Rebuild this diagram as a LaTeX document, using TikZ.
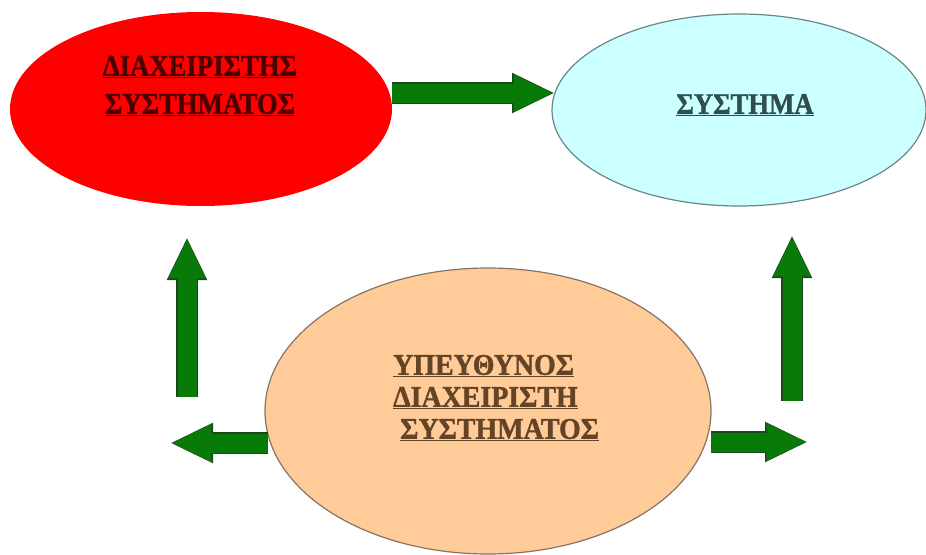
\documentclass[tikz,border=0pt]{standalone}
\usepackage{graphicx}
\usepackage{fontspec}
\setmainfont{Liberation Serif}[BoldFeatures={FakeBold=1.3}]
\usetikzlibrary{arrows.meta,calc,shapes.geometric}
\definecolor{arrowgreen}{RGB}{8,122,8}
\definecolor{arrowedge}{RGB}{30,70,30}
\definecolor{sysfill}{RGB}{204,255,255}
\definecolor{sysedge}{RGB}{105,135,135}
\definecolor{respfill}{RGB}{255,204,153}
\definecolor{respedge}{RGB}{135,115,100}
\definecolor{redtext}{RGB}{75,0,0}
\definecolor{systext}{RGB}{47,79,79}
\definecolor{resptext}{RGB}{100,68,36}
\newcommand{\cond}[1]{\scalebox{0.89}[1]{\underline{#1}}}
\newcommand{\condo}[1]{\scalebox{0.93}[1]{\underline{#1}}}
\tikzset{
  blob/.style={ellipse, inner sep=0pt},
  label/.style={inner sep=0pt},
  blockedge/.style={draw=arrowedge, line width=21.5pt, -{Triangle[length=43pt,width=37pt]}},
  blockfill/.style={draw=arrowgreen, line width=19pt, -{Triangle[length=40pt,width=34pt]}, shorten >=1.3pt},
}
\newcommand{\blockarr}[2]{%
  \draw[blockedge] (#1) -- (#2);
  \draw[blockfill] (#1) -- (#2);}
\begin{document}
\begin{tikzpicture}[x=1pt,y=-1pt]
\useasboundingbox (0,0) rectangle (926,554);
% ellipses
\node[blob, fill=red, minimum width=382pt, minimum height=194pt] (mgr) at (201,109) {};
\node[blob, fill=sysfill, draw=sysedge, line width=1.2pt, minimum width=374pt, minimum height=192pt] (sys) at (739,110) {};
\node[blob, fill=respfill, draw=respedge, line width=1.2pt, minimum width=446pt, minimum height=286pt] (resp) at (488,411) {};
% texts
\node[label, text=redtext, align=center, font=\bfseries\fontsize{30}{38}\selectfont] (mgrt) at (200,86)
  {\cond{ΔΙΑΧΕΙΡΙΣΤΗΣ}\\\cond{ΣΥΣΤΗΜΑΤΟΣ}};
\node[label, text=systext, font=\bfseries\fontsize{30}{32}\selectfont] (syst) at (745,105)
  {\cond{ΣΥΣΤΗΜΑ}};
\node[label, text=resptext, align=left, anchor=west, font=\bfseries\fontsize{30}{32}\selectfont] (respt) at (393,398)
  {\condo{ΥΠΕΥΘΥΝΟΣ}\\\condo{ΔΙΑΧΕΙΡΙΣΤΗ}\\\hspace{7pt}\condo{ΣΥΣΤΗΜΑΤΟΣ}};
% arrow end points
\coordinate (a1s) at (mgr.east |- 0,93);
\coordinate (a1e) at (555,93);
\coordinate (a2s) at (187,397);
\coordinate (a2e) at (187,237);
\coordinate (a3s) at (792,401);
\coordinate (a3e) at (792,235);
\coordinate (a4s) at (268,443);
\coordinate (a4e) at (170,443);
\coordinate (a5s) at (711,442);
\coordinate (a5e) at (808,442);
\blockarr{a1s}{a1e}
\blockarr{a2s}{a2e}
\blockarr{a3s}{a3e}
\blockarr{a4s}{a4e}
\blockarr{a5s}{a5e}
\end{tikzpicture}
\end{document}
